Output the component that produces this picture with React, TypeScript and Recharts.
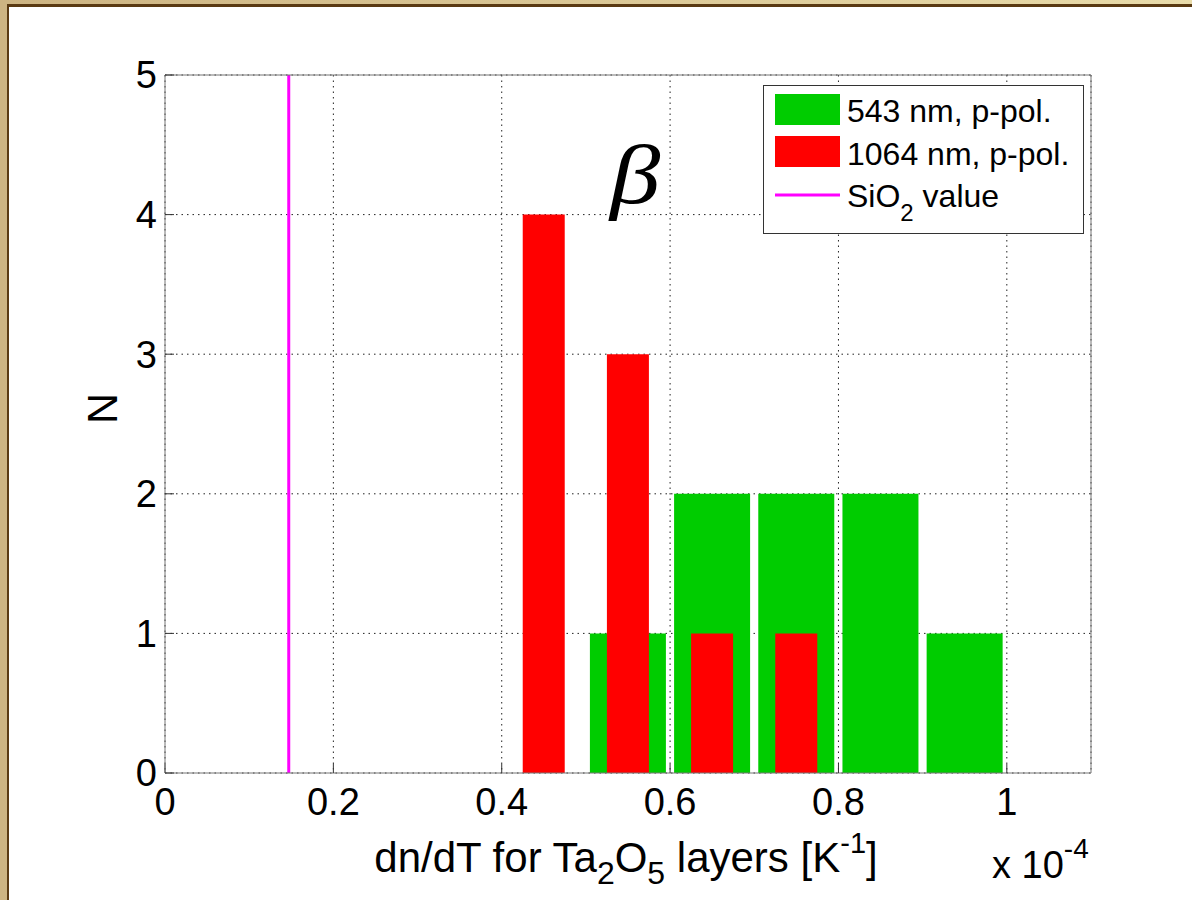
import {
  ComposedChart,
  Bar,
  XAxis,
  YAxis,
  CartesianGrid,
  ReferenceLine,
  Legend,
} from "recharts";

// histogram bins (x 10^-4 K^-1)
const binCenters = [0.45, 0.55, 0.65, 0.75, 0.85, 0.95];
const greenCounts = [0, 1, 2, 2, 2, 1]; // 543 nm, p-pol.
const redCounts = [4, 3, 1, 1, 0, 0]; // 1064 nm, p-pol.
const sio2Value = 0.147;

const xTicks = [0, 0.2, 0.4, 0.6, 0.8, 1];
const yTicks = [0, 1, 2, 3, 4, 5];

const data = binCenters.map((x, i) => ({
  x,
  green: greenCounts[i],
  red: redCounts[i],
}));

const FONT = "'Liberation Sans', Arial, Helvetica, sans-serif";
const tickStyle = { fill: "#000", fontSize: 38, fontFamily: FONT };

const XLabel = () => (
  <text
    x={626}
    y={872}
    textAnchor="middle"
    fontSize={42}
    fontFamily={FONT}
    fill="#000"
  >
    dn/dT for Ta
    <tspan fontSize={32} dy={12}>2</tspan>
    <tspan dy={-12}>O</tspan>
    <tspan fontSize={32} dy={12}>5</tspan>
    <tspan dy={-12}> layers [K</tspan>
    <tspan fontSize={29} dy={-19}>-1</tspan>
    <tspan dy={19}>]</tspan>
  </text>
);

const LegendBox = () => (
  <svg width={321} height={149} style={{ display: "block" }}>
    <rect x={0.5} y={0.5} width={320} height={148} fill="#fff" stroke="#333" />
    <rect x={12} y={9} width={65} height={31} fill="#00cc00" />
    <text x={84} y={37} fontSize={32} fontFamily={FONT} fill="#000">
      543 nm, p-pol.
    </text>
    <rect x={12} y={51} width={65} height={31} fill="#ff0000" />
    <text x={84} y={80} fontSize={32} fontFamily={FONT} fill="#000">
      1064 nm, p-pol.
    </text>
    <line x1={12} y1={110} x2={77} y2={110} stroke="#ff00ff" strokeWidth={3} />
    <text x={84} y={122} fontSize={32} fontFamily={FONT} fill="#000">
      SiO
      <tspan fontSize={24} dy={14}>2</tspan>
      <tspan dy={-14}> value</tspan>
    </text>
  </svg>
);

const App = () => {
  return (
    <div
      style={{
        position: "absolute",
        left: 0,
        top: 0,
        width: 1192,
        height: 900,
        background: "linear-gradient(90deg, #cdb482 0%, #e9dcaa 100%)",
        overflow: "hidden",
      }}
    >
      <div
        style={{
          position: "absolute",
          left: 7,
          top: 4,
          width: 1200,
          height: 900,
          background: "#fff",
          borderLeft: "2px solid #5a3a12",
          borderTop: "3px solid #5a3a12",
        }}
      />
      <div style={{ position: "absolute", left: 0, top: 0 }}>
        <ComposedChart
          width={1192}
          height={900}
          data={data}
          margin={{ top: 74, right: 100, left: 85, bottom: 67 }}
        >
          <CartesianGrid stroke="#222" strokeDasharray="1.5 4" fill="#fff" />
          <XAxis
            dataKey="x"
            type="number"
            domain={[0, 1.1]}
            ticks={xTicks}
            allowDataOverflow
            height={60}
            tickSize={-9}
            tickMargin={24}
            stroke="#777"
            tick={tickStyle}
            tickLine={{ stroke: "#333" }}
            tickFormatter={(v: number) => String(v)}
            label={<XLabel />}
          />
          <XAxis
            xAxisId="top"
            orientation="top"
            dataKey="x"
            type="number"
            domain={[0, 1.1]}
            ticks={xTicks}
            allowDataOverflow
            height={1}
            tickSize={-9}
            tick={false}
            stroke="#777"
            tickLine={{ stroke: "#333" }}
          />
          <XAxis
            xAxisId="red"
            dataKey="x"
            type="number"
            domain={[0, 1.1]}
            allowDataOverflow
            hide
          />
          <YAxis
            type="number"
            domain={[0, 5]}
            ticks={yTicks}
            width={80}
            tickSize={-9}
            tickMargin={17}
            stroke="#777"
            tick={tickStyle}
            tickLine={{ stroke: "#333" }}
            label={{
              value: "N",
              angle: -90,
              position: "insideLeft",
              offset: 17,
              style: { fontSize: 43, fontFamily: FONT, fill: "#000" },
            }}
          />
          <YAxis
            yAxisId="right"
            orientation="right"
            type="number"
            domain={[0, 5]}
            ticks={yTicks}
            width={1}
            tickSize={-9}
            tick={false}
            stroke="#777"
            tickLine={{ stroke: "#333" }}
          />
          <Legend
            layout="vertical"
            align="center"
            verticalAlign="middle"
            content={() => <LegendBox />}
            wrapperStyle={{ left: 763, top: 85, width: 321, height: 149 }}
          />
          <Bar
            dataKey="green"
            name="543 nm, p-pol."
            fill="#00cc00"
            barSize={76}
            isAnimationActive={false}
          />
          <Bar
            dataKey="red"
            xAxisId="red"
            name="1064 nm, p-pol."
            fill="#ff0000"
            barSize={42}
            isAnimationActive={false}
          />
          <ReferenceLine
            x={sio2Value}
            stroke="#ff00ff"
            strokeWidth={3}
            ifOverflow="visible"
          />
        </ComposedChart>
      </div>
      <svg
        width={1192}
        height={900}
        style={{ position: "absolute", left: 0, top: 0, pointerEvents: "none" }}
      >
        <text
          x={0}
          y={0}
          transform="translate(610 203) scale(1.2 1)"
          fontFamily="'Liberation Serif', 'Times New Roman', serif"
          fontStyle="italic"
          fontSize={84}
          fill="#000"
        >
          β
        </text>
        <text x={992} y={878} fontFamily={FONT} fontSize={38} fill="#000">
          x 10
          <tspan fontSize={28} dy={-20}>-4</tspan>
        </text>
      </svg>
    </div>
  );
};

export default App;
